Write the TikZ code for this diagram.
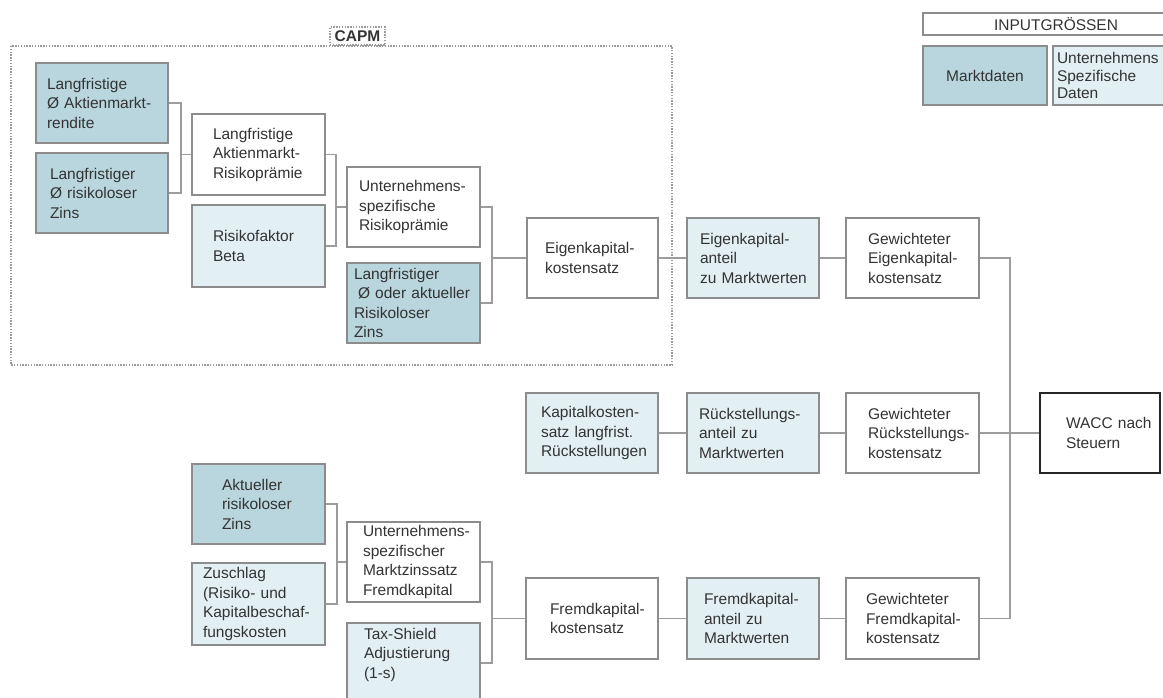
\documentclass[tikz,border=0pt]{standalone}
\usepackage{fontspec}
\setmainfont{Liberation Sans}
\definecolor{mkt}{HTML}{B9D6DF}
\definecolor{own}{HTML}{E2F0F4}
\definecolor{boxline}{HTML}{8C8C8C}
\definecolor{wire}{HTML}{9C9C9C}
\definecolor{txt}{HTML}{333333}
\begin{document}
\begin{tikzpicture}[x=1pt,y=-1pt,
  base/.style={draw=boxline, line width=1.2pt, inner ysep=0pt, text=txt,
    font=\fontsize{15.5}{19.5}\selectfont, align=left,
    minimum width=132pt, minimum height=80pt,
    execute at begin node={\hyphenpenalty=10000\exhyphenpenalty=10000}},
  marketbox/.style={base, fill=mkt},
  firmbox/.style={base, fill=own},
  calcbox/.style={base, fill=white},
  resultbox/.style={base, fill=white, draw=black!85, line width=2pt},
  wire/.style={draw=wire, line width=1.3pt},
  frame/.style={draw=wire, line width=1.2pt, dash pattern=on 1.4pt off 1.4pt}]

\useasboundingbox (0,0) rectangle (1163,698);
\fill[white] (0,0) rectangle (1163,698);
\clip (0,0) rectangle (1163,698);

% CAPM frame with its label
\draw[frame] (11,46) rectangle (672,365);
\node[frame, minimum width=55pt, minimum height=18pt, inner sep=0pt, text=txt,
  font=\fontsize{15.5}{18}\selectfont\bfseries] (capm) at (357.5,36) {CAPM};

% legend
\node[calcbox, align=center, minimum width=266pt, minimum height=22pt]
  (inp) at (1056,24) {INPUTGRÖSSEN};
\node[marketbox, align=center, minimum width=124pt, minimum height=59pt]
  (mdat) at (985,75.5) {Marktdaten};
\node[firmbox, minimum width=137pt, minimum height=59pt, inner xsep=4pt, text width=129pt,
  font=\fontsize{15.5}{17.5}\selectfont]
  (udat) at (1121.5,75.5) {Unternehmens\\Spezifische\\Daten};

% cost of equity
\node[marketbox, inner xsep=11pt, text width=110pt] (mkt1) at (102,103)
  {Langfristige\\Ø~Aktienmarkt-\\rendite};
\node[marketbox, inner xsep=14pt, text width=104pt] (mkt2) at (102,193)
  {Langfristiger\\Ø~risikoloser\\Zins};
\node[calcbox, minimum width=133pt, minimum height=81pt, inner xsep=21pt, text width=91pt]
  (amrp) at (258.5,154.5) {Langfristige\\Aktienmarkt-\\Risikoprämie};
\node[firmbox, minimum width=133pt, minimum height=82pt, inner xsep=21pt, text width=91pt]
  (beta) at (258.5,246) {Risikofaktor\\Beta};
\node[calcbox, minimum width=133pt, inner xsep=12pt, text width=109pt]
  (urp) at (413.5,207) {Unternehmens-\\spezifische\\Risikoprämie};
\node[marketbox, minimum width=133pt, inner xsep=7pt, text width=119pt]
  (rf) at (413.5,303) {Langfristiger\\\hspace*{4pt}Ø~oder~aktueller\\Risikoloser\\Zins};
\node[calcbox, minimum width=131pt, inner xsep=18pt, text width=95pt]
  (ekk) at (592.5,258) {Eigenkapital-\\kostensatz};
\node[firmbox, inner xsep=13pt, text width=106pt]
  (eka) at (753,258) {Eigenkapital-\\anteil\\zu~Marktwerten};
\node[calcbox, minimum width=133pt, inner xsep=22pt, text width=89pt]
  (gek) at (912.5,258) {Gewichteter\\Eigenkapital-\\kostensatz};

% provisions
\node[firmbox, inner xsep=15pt, text width=102pt]
  (kr) at (592,433) {Kapitalkosten-\\satz~langfrist.\\Rückstellungen};
\node[firmbox, inner xsep=12pt, text width=108pt]
  (ra) at (753,433) {Rückstellungs-\\anteil~zu\\Marktwerten};
\node[calcbox, minimum width=133pt, inner xsep=22pt, text width=89pt]
  (grk) at (912.5,433) {Gewichteter\\Rückstellungs-\\kostensatz};
\node[resultbox, minimum width=120pt, inner xsep=26pt, text width=68pt]
  (wacc) at (1100,433) {WACC~nach\\Steuern};

% cost of debt
\node[marketbox, minimum width=133pt, inner xsep=30pt, text width=73pt]
  (azins) at (258.5,504) {Aktueller\\risikoloser\\Zins};
\node[firmbox, minimum width=133pt, minimum height=82pt, inner xsep=11pt, text width=111pt]
  (zus) at (258.5,604) {Zuschlag\\(Risiko-~und\\Kapitalbeschaf-\\fungskosten};
\node[calcbox, minimum width=133pt, inner xsep=16pt, text width=101pt]
  (umz) at (413.5,562) {Unternehmens-\\spezifischer\\Marktzinssatz\\Fremdkapital};
\node[firmbox, minimum width=133pt, inner xsep=17pt, text width=99pt]
  (tax) at (413.5,663) {Tax-Shield\\Adjustierung\\(1-s)\\\mbox{}};
\node[calcbox, minimum height=81pt, inner xsep=24pt, text width=84pt]
  (fk) at (592,618.5) {Fremdkapital-\\kostensatz};
\node[firmbox, minimum height=81pt, inner xsep=17pt, text width=98pt]
  (fka) at (753,618.5) {Fremdkapital-\\anteil~zu\\Marktwerten};
\node[calcbox, minimum width=133pt, minimum height=81pt, inner xsep=20pt, text width=93pt]
  (gfk) at (912.5,618.5) {Gewichteter\\Fremdkapital-\\kostensatz};

% junction points of the forks
\coordinate (j1) at (181,154.5);
\coordinate (j2) at (336,207);
\coordinate (j3) at (492,258);
\coordinate (j4) at (1010,433);
\coordinate (j5) at (337,562);
\coordinate (j6) at (492,618.5);

% connectors
\draw[wire] (mkt1.east) -| (j1) |- (mkt2.east);
\draw[wire] (j1) -- (amrp.west);
\draw[wire] (amrp.east) -| (j2) |- (beta.east);
\draw[wire] (j2) -- (urp.west);
\draw[wire] (urp.east) -| (j3) |- (rf.east);
\draw[wire] (j3) -- (ekk.west);
\draw[wire] (ekk.east) -- (eka.west);
\draw[wire] (eka.east) -- (gek.west);
\draw[wire] (gek.east) -| (j4) |- (gfk.east);
\draw[wire] (kr.east) -- (ra.west);
\draw[wire] (ra.east) -- (grk.west);
\draw[wire] (grk.east) -- (wacc.west);
\draw[wire] (azins.east) -| (j5) |- (zus.east);
\draw[wire] (j5) -- (umz.west);
\draw[wire] (umz.east) -| (j6) |- (tax.east);
\draw[wire] (j6) -- (fk.west);
\draw[wire] (fk.east) -- (fka.west);
\draw[wire] (fka.east) -- (gfk.west);
\end{tikzpicture}
\end{document}
